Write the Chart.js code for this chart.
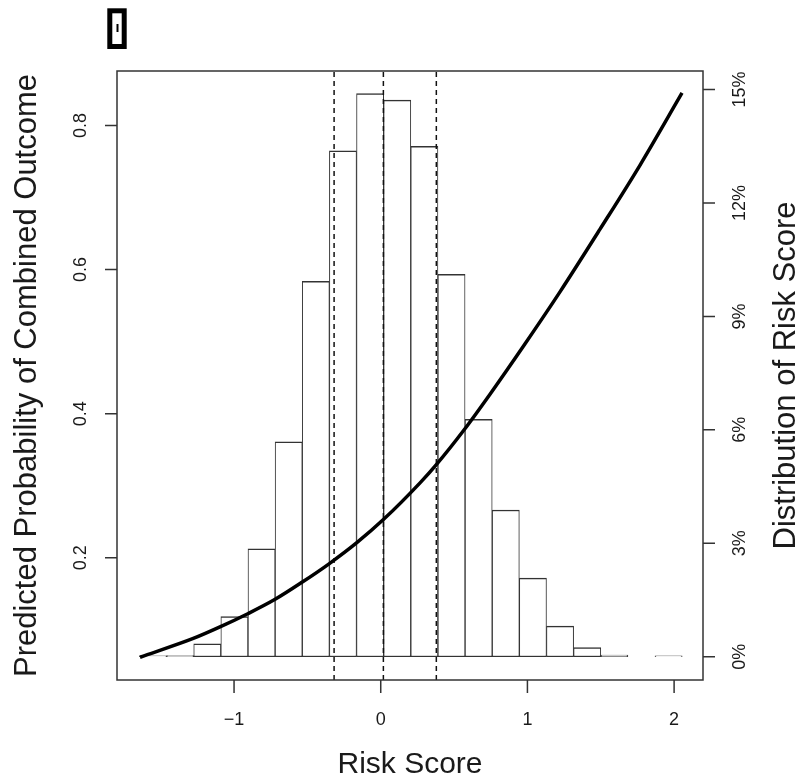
<!DOCTYPE html>
<html>
<head>
<meta charset="utf-8">
<script src="https://cdn.jsdelivr.net/npm/chart.js@4.4.0/dist/chart.umd.min.js"></script>
<style>
  html, body { margin: 0; padding: 0; background: #fff; }
</style>
</head>
<body>
<canvas id="riskChart" width="801" height="781"></canvas>
<script>
// ==== Data ====
// histogram of the risk score: bin edges and % of patients per bin
const binEdges = [-1.645, -1.460, -1.275, -1.090, -0.905, -0.720, -0.535, -0.350, -0.165, 0.020,
                  0.205, 0.390, 0.575, 0.760, 0.945, 1.130, 1.315, 1.500, 1.685, 1.870, 2.055];
const binPercent = [0.02, 0.03, 0.34, 1.06, 2.85, 5.68, 9.93, 13.38, 14.89, 14.72,
                    13.50, 10.11, 6.28, 3.88, 2.08, 0.81, 0.24, 0.04, 0, 0.02];

// predicted probability curve
const curveScore = [-1.641, -1.278, -1.096, -0.910, -0.723, -0.537, -0.350, -0.163, 0.018,
                    0.268, 0.382, 0.570, 0.745, 0.984, 1.222, 1.495, 1.768, 2.054];
const curveProb = [0.062, 0.088, 0.104, 0.122, 0.142, 0.166, 0.192, 0.221, 0.253,
                   0.304, 0.330, 0.378, 0.427, 0.497, 0.569, 0.656, 0.745, 0.845];

// dashed vertical cut points
const cutPoints = [-0.318, 0.018, 0.379];

// axes
const xRange = [-1.798, 2.197];
const probRange = [0.0304, 0.8755];
const pctRange = [-0.616, 15.49];
const xTicks = [-1, 0, 1, 2];
const xTickLabels = ['\u22121', '0', '1', '2'];
const probTicks = [0.2, 0.4, 0.6, 0.8];
const probTickLabels = ['0.2', '0.4', '0.6', '0.8'];
const pctTicks = [0, 3, 6, 9, 12, 15];
const pctTickLabels = ['0%', '3%', '6%', '9%', '12%', '15%'];

const FONT = '"Liberation Sans", Arial, Helvetica, sans-serif';
const INK = '#1a1a1a';
const FRAME = '#333';

// ==== Build datasets ====
const histData = binPercent.map((p, i) => ({ x: (binEdges[i] + binEdges[i + 1]) / 2, y: p }));
const curveData = curveScore.map((x, i) => ({ x: x, y: curveProb[i] }));
const cutDatasets = cutPoints.map(q => ({
    type: 'line',
    data: [{ x: q, y: probRange[0] }, { x: q, y: probRange[1] }],
    yAxisID: 'y',
    borderColor: '#111',
    borderWidth: 1.5,
    borderDash: [5, 4],
    pointRadius: 0,
    order: 1
}));

// ==== Frame, ticks, labels, titles (R style) ====
const rAxesPlugin = {
    id: 'rAxes',
    afterDraw(chart) {
        const ctx = chart.ctx;
        const a = chart.chartArea;
        const sx = chart.scales.x, sy = chart.scales.y, sy2 = chart.scales.y2;
        ctx.save();

        // box
        ctx.strokeStyle = FRAME;
        ctx.lineWidth = 1.5;
        ctx.strokeRect(a.left, a.top, a.right - a.left, a.bottom - a.top);

        // tick marks
        ctx.beginPath();
        xTicks.forEach(v => {
            const px = sx.getPixelForValue(v);
            ctx.moveTo(px, a.bottom); ctx.lineTo(px, a.bottom + 13);
        });
        probTicks.forEach(v => {
            const py = sy.getPixelForValue(v);
            ctx.moveTo(a.left - 12, py); ctx.lineTo(a.left, py);
        });
        pctTicks.forEach(v => {
            const py = sy2.getPixelForValue(v);
            ctx.moveTo(a.right, py); ctx.lineTo(a.right + 12, py);
        });
        ctx.stroke();

        // tick labels
        ctx.fillStyle = INK;
        ctx.font = '18px ' + FONT;
        ctx.textAlign = 'center';
        ctx.textBaseline = 'middle';
        xTicks.forEach((v, i) => ctx.fillText(xTickLabels[i], sx.getPixelForValue(v), 720));

        const rotText = (txt, x, y) => {
            ctx.save();
            ctx.translate(x, y);
            ctx.rotate(-Math.PI / 2);
            ctx.fillText(txt, 0, 0);
            ctx.restore();
        };
        probTicks.forEach((v, i) => rotText(probTickLabels[i], 81, sy.getPixelForValue(v)));
        pctTicks.forEach((v, i) => rotText(pctTickLabels[i], 740, sy2.getPixelForValue(v)));

        // axis titles
        const midY = (a.top + a.bottom) / 2;
        ctx.font = '30px ' + FONT;
        ctx.fillText('Risk Score', (a.left + a.right) / 2, 765);
        ctx.font = '31px ' + FONT;
        rotText('Predicted Probability of Combined Outcome', 27, midY);
        rotText('Distribution of Risk Score', 786, midY);

        // small framed mark at top left
        ctx.strokeStyle = '#000';
        ctx.lineWidth = 5;
        ctx.strokeRect(109.8, 10.8, 14.4, 35.7);
        ctx.lineWidth = 2;
        ctx.beginPath();
        ctx.moveTo(117.5, 24); ctx.lineTo(117.5, 32);
        ctx.stroke();

        ctx.restore();
    }
};

// ==== Chart ====
const ctx = document.getElementById('riskChart').getContext('2d');
const riskChart = new Chart(ctx, {
    type: 'bar',
    data: {
        datasets: [
            {
                type: 'line',
                label: 'Predicted probability',
                data: curveData,
                yAxisID: 'y',
                borderColor: '#000',
                borderWidth: 3.5,
                pointRadius: 0,
                cubicInterpolationMode: 'monotone',
                order: 0
            },
            ...cutDatasets,
            {
                type: 'bar',
                label: 'Distribution',
                data: histData,
                yAxisID: 'y2',
                backgroundColor: '#fff',
                borderColor: FRAME,
                borderWidth: { top: 1.5, left: 1, right: 1, bottom: 1.2 },
                borderSkipped: false,
                barPercentage: 1,
                categoryPercentage: 1,
                grouped: false,
                order: 2
            }
        ]
    },
    options: {
        responsive: false,
        animation: false,
        devicePixelRatio: 1,
        layout: { padding: { left: 117, top: 71, right: 98, bottom: 101 } },
        plugins: {
            legend: { display: false },
            tooltip: { enabled: false }
        },
        scales: {
            x: { type: 'linear', display: false, offset: false, min: xRange[0], max: xRange[1] },
            y: { type: 'linear', display: false, min: probRange[0], max: probRange[1] },
            y2: { type: 'linear', display: false, min: pctRange[0], max: pctRange[1] }
        }
    },
    plugins: [rAxesPlugin]
});
</script>
</body>
</html>
